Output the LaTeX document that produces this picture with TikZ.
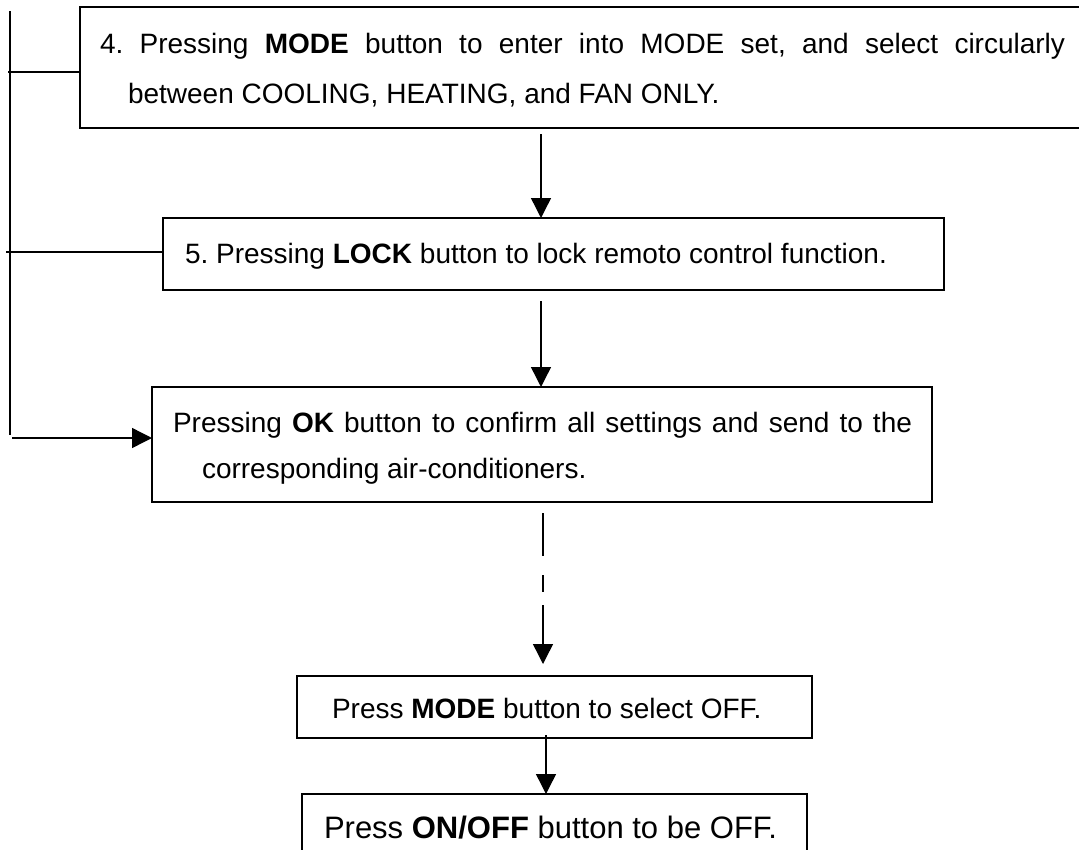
\documentclass[tikz,border=0pt]{standalone}
\usepackage{fontspec}
\setmainfont{Liberation Sans}
\usetikzlibrary{arrows.meta}
\frenchspacing
\tikzset{
  box/.style={draw, line width=1.5pt, rectangle, anchor=north west, inner sep=0pt, outer sep=0pt},
  txt/.style={anchor=base west, inner sep=0pt, outer sep=0pt, font=\fontsize{28}{34}\selectfont},
  bigtxt/.style={anchor=base west, inner sep=0pt, outer sep=0pt, font=\fontsize{31}{37}\selectfont},
  conn/.style={line width=1.4pt},
  arr/.style={line width=1.4pt, -{Triangle[length=20pt,width=20pt]}},
}
\begin{document}
\begin{tikzpicture}[x=1pt,y=-1pt]
\useasboundingbox (0,0) rectangle (1079,849);
\clip (0,0) rectangle (1079,849);
% boxes
\node[box, minimum width=1100pt, minimum height=121pt] (t4) at (80,7) {};
\node[box, minimum width=781pt, minimum height=72pt] (b5) at (163,218) {};
\node[box, minimum width=780pt, minimum height=115pt] (ok) at (152,387) {};
\node[box, minimum width=515pt, minimum height=62pt] (mode) at (297,676) {};
\node[box, minimum width=505pt, minimum height=90pt] (onoff) at (302,794) {};
% texts
\node[txt] (t4a) at (100,53) {\makebox[965pt][s]{4. Pressing \textbf{MODE} button to enter into MODE set, and select circularly}};
\node[txt] (t4b) at (128,103) {between COOLING, HEATING, and FAN ONLY.};
\node[txt] (b5t) at (185,263) {5. Pressing \textbf{LOCK} button to lock remoto control function.};
\node[txt] (oka) at (173,432) {\makebox[739pt][s]{Pressing \textbf{OK} button to confirm all settings and send to the}};
\node[txt] (okb) at (202,478) {corresponding air-conditioners.};
\node[txt] (modet) at (332,718) {Press \textbf{MODE} button to select OFF.};
\node[bigtxt] (onofft) at (324,838) {Press \textbf{ON/OFF} button to be OFF.};
% left connectors
\coordinate (vtop) at (10,11);
\coordinate (vbot) at (10,435);
\draw[conn] (vtop) -- (vbot);
\coordinate (br1) at (8,72);
\draw[conn] (br1) -- (br1 -| t4.west);
\coordinate (br2) at (6,252);
\draw[conn] (br2) -- (br2 -| b5.west);
\coordinate (br3) at (12,438);
\draw[arr] (br3) -- (br3 -| ok.west);
% vertical arrows
\coordinate (a1) at (541,134);
\draw[arr] (a1) -- (a1 |- b5.north);
\coordinate (a2) at (541,301);
\draw[arr] (a2) -- (a2 |- ok.north);
\coordinate (a3) at (543,513);
\coordinate (a3e) at (543,664);
\draw[arr, dash pattern=on 43pt off 19pt on 17pt off 13pt on 200pt] (a3) -- (a3e);
\coordinate (a4) at (546,735);
\draw[arr] (a4) -- (a4 |- onoff.north);
\end{tikzpicture}
\end{document}
